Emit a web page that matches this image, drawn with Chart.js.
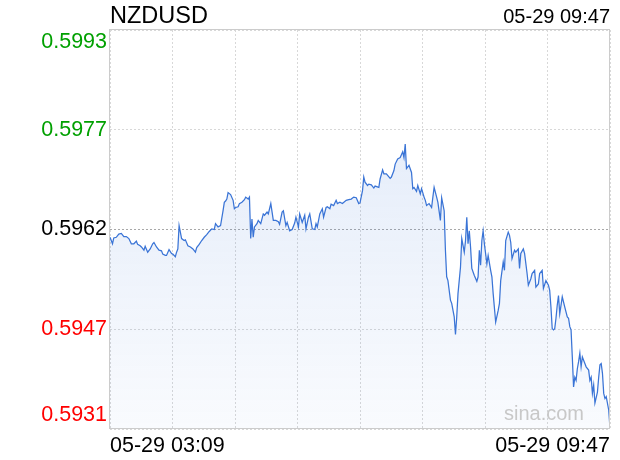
<!DOCTYPE html>
<html>
<head>
<meta charset="utf-8">
<script src="https://cdn.jsdelivr.net/npm/chart.js@4.4.0/dist/chart.umd.min.js"></script>
<style>
html, body { margin: 0; padding: 0; background: #fff; }
</style>
</head>
<body>
<canvas id="chart" width="620" height="460"></canvas>
<script>
const symbol = "NZDUSD";
const lastTime = "05-29 09:47";
const timeLabels = ["05-29 03:09", "05-29 09:47"];
const prevClose = 0.5962;
const yTicks = [0.59312, 0.59466, 0.5962, 0.59774, 0.59928];
const yTickColors = ["#ff0000", "#ff0000", "#000000", "#00a000", "#00a000"];
const totalMinutes = 398;

// minutes after 03:09
const minutes = [
    0, 2, 3, 5, 7, 9, 11, 13, 15, 17,
    19, 21, 22, 24, 25, 27, 28, 30, 32, 34,
    35, 37, 39, 41, 42, 44, 45, 47, 49, 50,
    52, 53, 54, 55, 57, 59, 60, 62, 64, 66,
    68, 69, 71, 73, 75, 77, 79, 81, 83, 84,
    86, 88, 90, 91, 92, 93, 94, 96, 98, 99,
    100, 102, 103, 105, 107, 108, 110, 111, 112, 113,
    114, 115, 117, 118, 120, 122, 123, 125, 126, 128,
    130, 132, 134, 135, 137, 138, 140, 141, 143, 145,
    147, 148, 150, 151, 153, 155, 156, 158, 159, 161,
    163, 164, 165, 167, 169, 170, 172, 173, 175, 176,
    178, 180, 181, 183, 185, 188, 190, 192, 194, 196,
    198, 199, 201, 202, 203, 205, 206, 208, 210, 211,
    214, 215, 217, 218, 220, 223, 224, 226, 227, 229,
    231, 233, 234, 235, 236, 238, 240, 241, 242, 244,
    245, 247, 248, 250, 251, 252, 254, 256, 257, 258,
    260, 261, 263, 264, 266, 267, 268, 269, 271, 272,
    274, 275, 276, 277, 279, 280, 282, 283, 284, 285,
    286, 287, 288, 290, 292, 293, 294, 295, 296, 297,
    298, 300, 301, 303, 304, 305, 307, 309, 310, 311,
    313, 314, 315, 317, 318, 319, 320, 322, 323, 325,
    326, 327, 329, 330, 332, 333, 335, 336, 338, 339,
    341, 342, 344, 345, 347, 349, 350, 351, 352, 353,
    354, 355, 356, 357, 358, 359, 360, 362, 364, 365,
    366, 367, 368, 369, 370, 371, 372, 373, 374, 375,
    376, 378, 379, 381, 382, 383, 384, 385, 386, 388,
    389, 390, 391, 392, 393, 394, 395, 397, 398
];

const prices = [
    0.59608, 0.59598, 0.59607, 0.59608, 0.59613, 0.59614, 0.59609, 0.59609, 0.59606, 0.59598,
    0.59598, 0.59602, 0.59597, 0.59595, 0.59593, 0.59588, 0.59594, 0.59585, 0.59590, 0.59598,
    0.59600, 0.59593, 0.59588, 0.59587, 0.59582, 0.59580, 0.59580, 0.59589, 0.59583, 0.59582,
    0.59578, 0.59585, 0.59590, 0.59626, 0.59606, 0.59603, 0.59604, 0.59595, 0.59593, 0.59590,
    0.59585, 0.59592, 0.59597, 0.59603, 0.59608, 0.59612, 0.59617, 0.59621, 0.59620, 0.59629,
    0.59624, 0.59626, 0.59649, 0.59662, 0.59664, 0.59667, 0.59677, 0.59674, 0.59665, 0.59652,
    0.59654, 0.59655, 0.59660, 0.59662, 0.59666, 0.59670, 0.59667, 0.59670, 0.59606, 0.59636,
    0.59608, 0.59624, 0.59629, 0.59634, 0.59629, 0.59644, 0.59642, 0.59647, 0.59644, 0.59660,
    0.59634, 0.59634, 0.59632, 0.59628, 0.59647, 0.59649, 0.59626, 0.59631, 0.59618, 0.59620,
    0.59630, 0.59639, 0.59624, 0.59644, 0.59631, 0.59642, 0.59621, 0.59639, 0.59644, 0.59621,
    0.59620, 0.59629, 0.59624, 0.59644, 0.59652, 0.59639, 0.59654, 0.59655, 0.59652, 0.59659,
    0.59657, 0.59665, 0.59660, 0.59662, 0.59660, 0.59665, 0.59666, 0.59667, 0.59670, 0.59669,
    0.59660, 0.59661, 0.59680, 0.59701, 0.59693, 0.59688, 0.59690, 0.59689, 0.59684, 0.59687,
    0.59685, 0.59698, 0.59712, 0.59706, 0.59706, 0.59699, 0.59701, 0.59711, 0.59721, 0.59729,
    0.59731, 0.59740, 0.59731, 0.59752, 0.59714, 0.59719, 0.59708, 0.59683, 0.59685, 0.59679,
    0.59688, 0.59675, 0.59683, 0.59670, 0.59665, 0.59657, 0.59660, 0.59654, 0.59670, 0.59685,
    0.59670, 0.59662, 0.59634, 0.59669, 0.59649, 0.59588, 0.59547, 0.59541, 0.59511, 0.59506,
    0.59485, 0.59458, 0.59485, 0.59521, 0.59562, 0.59606, 0.59585, 0.59603, 0.59639, 0.59598,
    0.59618, 0.59593, 0.59560, 0.59549, 0.59540, 0.59547, 0.59588, 0.59565, 0.59603, 0.59618,
    0.59598, 0.59567, 0.59580, 0.59557, 0.59547, 0.59521, 0.59477, 0.59495, 0.59506, 0.59541,
    0.59570, 0.59557, 0.59603, 0.59616, 0.59611, 0.59600, 0.59575, 0.59588, 0.59585, 0.59590,
    0.59560, 0.59583, 0.59590, 0.59583, 0.59552, 0.59534, 0.59544, 0.59552, 0.59557, 0.59531,
    0.59536, 0.59552, 0.59557, 0.59529, 0.59541, 0.59534, 0.59526, 0.59500, 0.59467, 0.59465,
    0.59467, 0.59483, 0.59503, 0.59518, 0.59490, 0.59503, 0.59516, 0.59500, 0.59485, 0.59483,
    0.59470, 0.59465, 0.59423, 0.59377, 0.59392, 0.59387, 0.59405, 0.59416, 0.59429, 0.59408,
    0.59423, 0.59413, 0.59408, 0.59403, 0.59387, 0.59392, 0.59367, 0.59380, 0.59352, 0.59369,
    0.59392, 0.59411, 0.59413, 0.59398, 0.59367, 0.59359, 0.59362, 0.59341, 0.59313
];

const FONT = "'Liberation Sans', Arial, sans-serif";

// title, time, price labels, frame, watermark
const decorations = {
    id: "decorations",
    afterDraw(chart) {
        const { ctx, chartArea: a, scales } = chart;
        ctx.save();

        ctx.strokeStyle = "#cccccc";
        ctx.lineWidth = 1;
        ctx.setLineDash([]);
        ctx.strokeRect(a.left - 0.5, a.top - 0.5, a.right - a.left, a.bottom - a.top);

        ctx.textBaseline = "middle";
        ctx.textAlign = "left";
        ctx.fillStyle = "#000";
        ctx.font = "23.5px " + FONT;
        ctx.fillText(symbol, a.left, 17);

        ctx.textAlign = "right";
        ctx.font = "20px " + FONT;
        ctx.fillText(lastTime, a.right, 17);

        ctx.font = "21.5px " + FONT;
        yTicks.forEach((v, i) => {
            let y = scales.y.getPixelForValue(v);
            if (i === yTicks.length - 1) y += 12;
            if (i === 0) y -= 14;
            ctx.fillStyle = yTickColors[i];
            ctx.fillText(v.toFixed(4), a.left - 3, y);
        });

        ctx.font = "20px " + FONT;
        ctx.fillStyle = "#c8c8c8";
        ctx.textBaseline = "alphabetic";
        ctx.fillText("sina.com", a.right - 26, a.bottom - 9);

        ctx.restore();
    }
};

const ctx = document.getElementById("chart");

new Chart(ctx, {
    type: "line",
    data: {
        datasets: [{
            data: minutes.map((m, i) => ({ x: m, y: prices[i] })),
            borderColor: "#3a74d6",
            borderWidth: 1.25,
            pointRadius: 0,
            tension: 0,
            fill: "start",
            backgroundColor: (c) => {
                const a = c.chart.chartArea;
                if (!a) return "rgba(63,120,216,0.1)";
                const g = c.chart.ctx.createLinearGradient(0, a.top, 0, a.bottom);
                g.addColorStop(0, "rgba(63,120,216,0.17)");
                g.addColorStop(1, "rgba(63,120,216,0.03)");
                return g;
            }
        }]
    },
    options: {
        responsive: false,
        animation: false,
        devicePixelRatio: 1,
        layout: { padding: { top: 30, right: 10, left: 0, bottom: 0 } },
        plugins: {
            legend: { display: false },
            tooltip: { enabled: false }
        },
        scales: {
            x: {
                type: "linear",
                min: 0,
                max: totalMinutes,
                afterBuildTicks: (s) => {
                    s.ticks = [0, 1, 2, 3, 4, 5, 6, 7, 8].map(i => ({ value: i * totalMinutes / 8 }));
                },
                afterFit: (s) => { s.height = 31; },
                grid: { color: "#d8d8d8", drawTicks: false },
                border: { display: false, dash: [2, 2] },
                ticks: {
                    autoSkip: false,
                    maxRotation: 0,
                    align: "inner",
                    padding: 4,
                    color: "#000",
                    font: { size: 21.5, family: FONT },
                    callback: (v, i) => i === 0 ? timeLabels[0] : (i === 8 ? timeLabels[1] : "")
                }
            },
            y: {
                min: yTicks[0],
                max: yTicks[yTicks.length - 1],
                afterBuildTicks: (s) => {
                    s.ticks = yTicks.map(v => ({ value: v }));
                },
                afterFit: (s) => { s.width = 110; },
                grid: {
                    drawTicks: false,
                    color: (c) => c.tick && Math.abs(c.tick.value - prevClose) < 1e-9 ? "#a8a8a8" : "#d8d8d8"
                },
                border: { display: false, dash: [2, 2] },
                ticks: { display: false }
            }
        }
    },
    plugins: [decorations]
});
</script>
</body>
</html>
